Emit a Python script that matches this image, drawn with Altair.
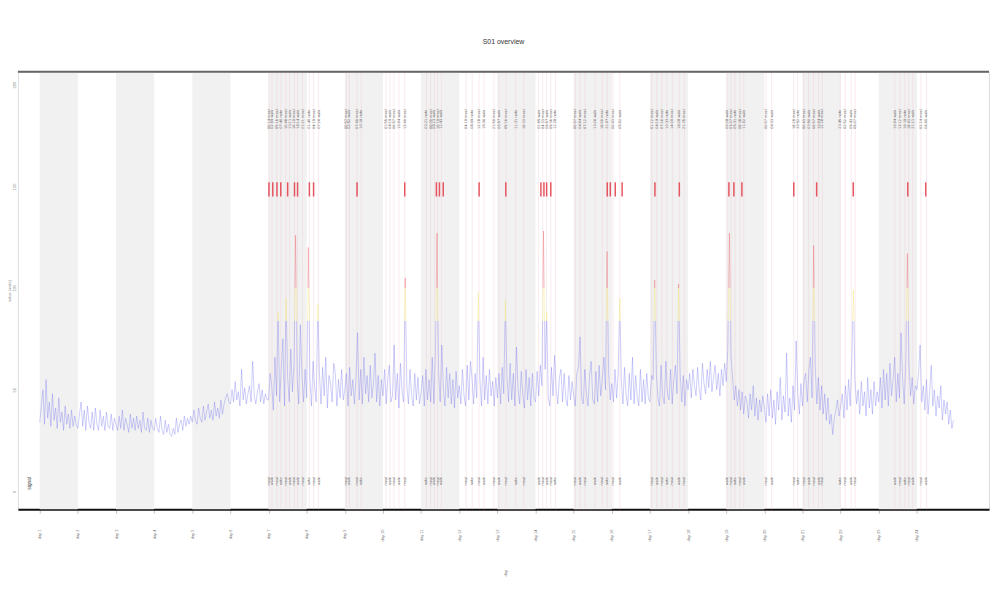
import altair as alt
import pandas as pd

# ---------------- data ----------------
title_text = "S01 overview"
x_title = "day"
y_title = "value (units)"
legend_text = "signal"

shaded_starts = [0, 2, 4, 6, 8, 10, 12, 14, 16, 18, 20, 22]
shaded_ends = [1, 3, 5, 7, 9, 11, 13, 15, 17, 19, 21, 23]

day_ticks = list(range(24))
day_labels = [f"day {d + 1}" for d in day_ticks]
y_ticks = [0, 50, 100, 150, 200]

# hourly signal, one row per day
signal = [
    34, 42, 50, 33, 55, 36, 44, 32, 48, 35, 41, 31, 46, 34, 39, 30, 42, 33, 38, 31, 40, 32, 37, 33,
    31, 38, 44, 32, 40, 30, 42, 34, 31, 39, 30, 41, 33, 30, 40, 32, 37, 30, 39, 32, 31, 38, 30, 36,
    33, 30, 37, 31, 40, 30, 36, 33, 29, 38, 31, 36, 30, 37, 31, 35, 29, 39, 31, 30, 36, 29, 35, 31,
    30, 36, 31, 29, 37, 30, 28, 35, 29, 33, 28, 27, 31, 28, 36, 29, 33, 35, 30, 37, 32, 36, 33, 37,
    34, 40, 35, 33, 41, 36, 34, 42, 35, 39, 43, 36, 40, 35, 44, 37, 41, 36, 45, 38, 43, 46, 48, 44,
    43, 50, 44, 54, 45, 49, 42, 60, 45, 51, 43, 48, 52, 44, 64, 47, 43, 49, 53, 44, 50, 43, 48, 45,
    45, 58, 52, 40, 66, 47, 88, 44, 60, 75, 42, 95, 56, 44, 70, 49, 62, 126, 55, 43, 82, 57, 44, 60,
    46, 120, 55, 42, 64, 51, 44, 92, 58, 43, 61, 47, 66, 41, 57, 53, 44, 63, 58, 42, 55, 46, 60, 45,
    50, 58, 42, 61, 47, 55, 43, 56, 78, 45, 60, 43, 66, 48, 57, 44, 62, 46, 53, 68, 44, 57, 42, 55,
    47, 60, 43, 55, 62, 44, 47, 72, 45, 58, 41, 63, 49, 44, 105, 52, 43, 60, 47, 42, 58, 45, 56, 43,
    49, 57, 42, 60, 45, 55, 44, 66, 43, 68, 127, 58, 44, 72, 50, 42, 61, 46, 58, 43, 55, 41, 59, 46,
    52, 43, 60, 47, 42, 62, 45, 64, 56, 43, 58, 46, 98, 55, 42, 66, 45, 57, 43, 60, 47, 54, 42, 56,
    46, 58, 43, 61, 48, 94, 57, 44, 63, 45, 58, 42, 71, 50, 43, 59, 47, 41, 60, 45, 56, 42, 58, 46,
    44, 59, 47, 62, 52, 128, 60, 88, 46, 42, 61, 47, 67, 50, 43, 56, 60, 44, 58, 46, 42, 57, 45, 54,
    47, 42, 58, 61, 76, 46, 43, 60, 48, 42, 57, 64, 45, 43, 59, 44, 62, 47, 55, 66, 50, 118, 58, 45,
    53, 44, 60, 46, 58, 95, 54, 43, 61, 47, 42, 58, 45, 66, 43, 57, 46, 42, 60, 44, 55, 43, 58, 46,
    44, 57, 55, 104, 58, 46, 42, 62, 47, 43, 64, 48, 45, 60, 43, 55, 62, 48, 102, 58, 44, 57, 42, 55,
    50, 58, 46, 60, 52, 47, 61, 50, 45, 63, 53, 48, 60, 51, 64, 49, 56, 62, 50, 58, 47, 60, 52, 63,
    54, 70, 127, 66, 56, 45, 52, 42, 50, 40, 49, 38, 47, 44, 36, 48, 40, 52, 37, 46, 35, 45, 39, 47,
    41, 34, 48, 37, 50, 36, 45, 33, 49, 40, 56, 35, 47, 39, 68, 37, 46, 34, 52, 40, 74, 48, 38, 53,
    42, 55, 58, 44, 60, 66, 46, 121, 62, 43, 56, 40, 52, 38, 48, 35, 46, 33, 38, 28, 36, 40, 45, 37,
    42, 48, 36, 52, 40, 55, 42, 64, 99, 55, 43, 50, 38, 54, 42, 49, 37, 56, 41, 50, 38, 54, 42, 49,
    44, 56, 41, 60, 45, 58, 42, 63, 47, 55, 66, 44, 58, 46, 78, 55, 43, 64, 117, 62, 47, 56, 43, 52,
    50, 58, 72, 44, 52, 40, 55, 38, 49, 62, 42, 50, 37, 47, 41, 52, 35, 45, 38, 44, 33, 40, 31, 35,
]
signal_time = [i / 24 for i in range(len(signal))]

event_days = [
    6.01, 6.09, 6.22, 6.32, 6.45, 6.55, 6.68, 6.76, 6.89, 7.07, 7.18, 7.31,
    8.04, 8.12, 8.32, 8.43,
    9.08, 9.18, 9.29, 9.42, 9.57,
    10.14, 10.25, 10.35, 10.43, 10.53,
    11.18, 11.34, 11.52, 11.65,
    11.91, 12.04, 12.22, 12.48, 12.69,
    13.08, 13.19, 13.29, 13.40, 13.52,
    14.04, 14.17, 14.30, 14.56, 14.75, 14.88, 15.03, 15.21,
    16.05, 16.18, 16.31, 16.44, 16.59, 16.77, 16.90,
    18.02, 18.13, 18.23, 18.36, 18.46,
    19.04, 19.19,
    19.77, 19.87, 20.03, 20.16, 20.29, 20.42, 20.52,
    20.99, 21.12, 21.28, 21.38,
    22.42, 22.55, 22.68, 22.78, 22.89, 23.10, 23.25,
]
event_tags = ["meal", "walk", "meal", "note", "meal", "walk"] * 14
event_tags = event_tags[:len(event_days)]

alert_days = [
    6.01, 6.11, 6.22, 6.32, 6.50, 6.68, 6.76, 7.07, 7.18, 8.32, 9.57,
    10.40, 10.48, 10.58, 11.52, 12.22, 13.14, 13.22, 13.29, 13.40,
    14.88, 14.96, 15.09, 15.27, 16.13, 16.77, 18.07, 18.20, 18.41,
    19.77, 20.37, 21.33, 22.76, 23.23,
]

# ---------------- tables ----------------
W, H = 979, 441
X_DOMAIN = [-0.572, 24.89]
Y_DOMAIN = [-8.8, 206.3]

bands = pd.DataFrame({"start": shaded_starts, "end": shaded_ends})
line_df = pd.DataFrame({"t": signal_time, "v": signal})
ev = pd.DataFrame({"t": event_days, "tag": event_tags})
ev["clock"] = [f"{int((d % 1) * 24):02d}:{int(((d % 1) * 24 % 1) * 60):02d}" for d in event_days]
ev["top"] = ev["clock"] + " " + ev["tag"]
alerts = pd.DataFrame({"t": alert_days})

vmax, vmin = max(signal), min(signal)
o1 = (vmax - 100) / (vmax - vmin)
o2 = (vmax - 84) / (vmax - vmin)

xs = alt.Scale(domain=X_DOMAIN, nice=False, zero=False)
ys = alt.Scale(domain=Y_DOMAIN, nice=False, zero=False)

label_expr = "{" + ",".join(f"'{d}':'{l}'" for d, l in zip(day_ticks, day_labels)) + "}[datum.value]"

x_axis = alt.Axis(
    values=day_ticks, labelExpr=label_expr, labelAngle=-90, labelFontSize=4,
    labelColor="#777", labelPadding=16, tickSize=4, tickColor="#999", tickWidth=0.6,
    domainColor="#111", domainWidth=2, grid=False, title=x_title, titleFontSize=4,
    titleFontWeight="normal", titleColor="#777", titleAngle=270, titlePadding=32,
)
y_axis = alt.Axis(
    values=y_ticks, labelAngle=-90, labelFontSize=4, labelColor="#888", labelPadding=1,
    ticks=False, domain=False, grid=False, title=y_title, titleFontSize=4,
    titleFontWeight="normal", titleColor="#888", titlePadding=1, labelAlign="center",
)

band_layer = alt.Chart(bands).mark_rect(color="#f1f1f1").encode(
    x=alt.X("start:Q", scale=xs, axis=x_axis), x2="end:Q"
)

event_layer = alt.Chart(ev).mark_rule(color="#f0c6cf", strokeWidth=0.8, opacity=0.45).encode(
    x=alt.X("t:Q", scale=xs)
)

top_text = alt.Chart(ev).mark_text(
    angle=270, fontSize=3.5, color="#666", align="center", baseline="middle", font="DejaVu Sans"
).encode(x=alt.X("t:Q", scale=xs), y=alt.datum(183, scale=ys), text="top:N")

bottom_text = alt.Chart(ev).mark_text(
    angle=270, fontSize=3.5, color="#666", align="center", baseline="middle", font="DejaVu Sans"
).encode(x=alt.X("t:Q", scale=xs), y=alt.datum(5, scale=ys), text="tag:N")

alert_layer = alt.Chart(alerts).mark_rule(color="#e23a45", strokeWidth=1.5, opacity=0.85).encode(
    x=alt.X("t:Q", scale=xs), y=alt.datum(145, scale=ys), y2=alt.datum(152)
)

grad = alt.Gradient(
    gradient="linear", x1=0, x2=0, y1=0, y2=1,
    stops=[
        alt.GradientStop(color="#e8505a", offset=0),
        alt.GradientStop(color="#e8505a", offset=o1),
        alt.GradientStop(color="#f2e45a", offset=o1),
        alt.GradientStop(color="#f2e45a", offset=o2),
        alt.GradientStop(color="#6b6bf0", offset=o2),
        alt.GradientStop(color="#6b6bf0", offset=1),
    ],
)
line_layer = alt.Chart(line_df).mark_line(color=grad, strokeWidth=0.6, opacity=0.55).encode(
    x=alt.X("t:Q", scale=xs),
    y=alt.Y("v:Q", scale=ys, axis=y_axis),
)

legend_layer = alt.Chart(pd.DataFrame({"txt": [legend_text]})).mark_text(
    angle=270, fontSize=5, color="#444", align="center", baseline="middle"
).encode(x=alt.datum(-0.28, scale=xs), y=alt.datum(4, scale=ys), text="txt:N")

top_frame = alt.Chart(pd.DataFrame({"k": [0]})).mark_rule(color="#666", strokeWidth=2).encode(
    x=alt.value(0), x2=alt.value(W), y=alt.value(0)
)

chart = alt.layer(
    band_layer, event_layer, top_text, bottom_text, alert_layer, line_layer, legend_layer, top_frame
).properties(
    width=W, height=H,
    title=alt.TitleParams(title_text, fontSize=7, color="#333", fontWeight="normal", offset=26),
    autosize=alt.AutoSizeParams(type="none"),
    padding={"left": 10, "top": 62, "right": 3, "bottom": 80},
).configure_view(stroke=None).configure(background="white")

chart.save("out.html", embed_options={"renderer": "svg", "actions": False})
